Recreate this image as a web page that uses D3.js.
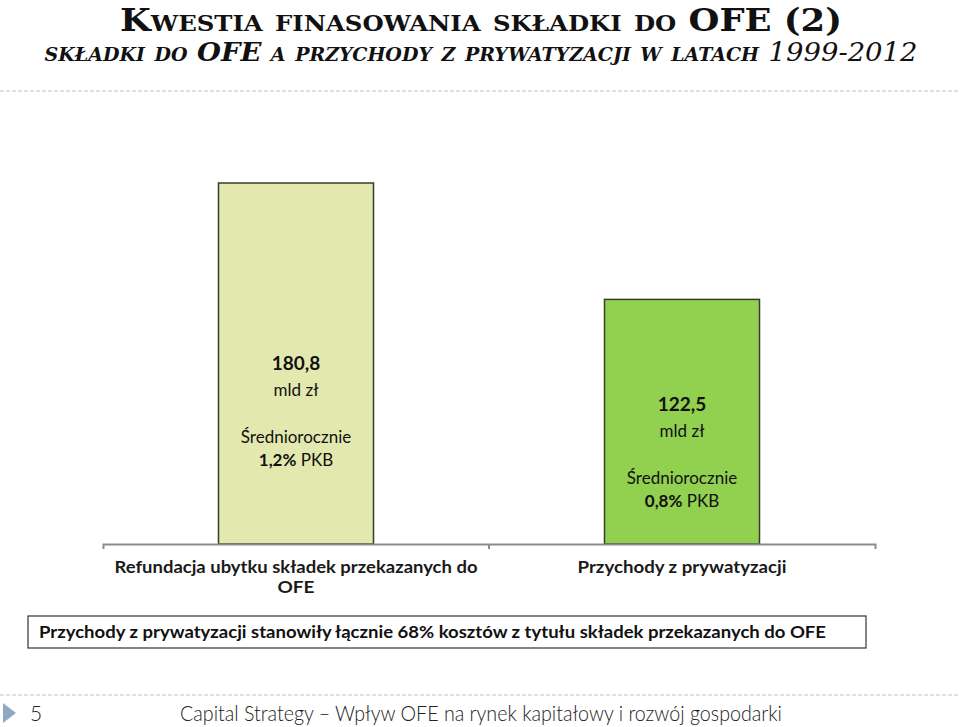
<!DOCTYPE html>
<html><head><meta charset="utf-8">
<script src="https://cdn.jsdelivr.net/npm/d3@7"></script>
<style>
body{margin:0;background:#fff;}
svg{display:block;}
</style></head>
<body>
<svg id="chart" width="960" height="727"></svg>
<script>
const categories = ["Refundacja ubytku składek przekazanych do OFE", "Przychody z prywatyzacji"];
const categoryLines = [["Refundacja ubytku składek przekazanych do", "OFE"], ["Przychody z prywatyzacji"]];
const categoryLineWidths = [[363, 37], [209]];
const values = [180.8, 122.5];
const valueLabels = ["180,8", "122,5"];
const pkbLabels = ["1,2%", "0,8%"];
const barColors = ["#E3E8AE", "#92D050"];

const svg = d3.select("#chart");
const W = 960, H = 727;

// header
const serif = "'DejaVu Serif Condensed','DejaVu Serif',serif";
svg.append("text").attr("x", 481).attr("y", 31).attr("text-anchor", "middle")
  .style("font-family", serif).style("font-weight", "bold").style("font-size", "32px")
  .style("font-variant", "small-caps").attr("textLength", 722).attr("lengthAdjust", "spacingAndGlyphs")
  .attr("fill", "#111")
  .text("Kwestia finasowania składki do OFE (2)");

const t2 = svg.append("text").attr("x", 481).attr("y", 61).attr("text-anchor", "middle")
  .style("font-family", serif).style("font-weight", "bold").style("font-style", "italic")
  .style("font-size", "26px").style("font-variant", "small-caps").attr("fill", "#111")
  .attr("textLength", 873).attr("lengthAdjust", "spacingAndGlyphs");
t2.append("tspan").text("składki do ");
t2.append("tspan").text("OFE");
t2.append("tspan").text(" a przychody z prywatyzacji w latach ");
t2.append("tspan").style("font-weight", "normal").text("1999-2012");

// dashed separators
[91, 695].forEach(y => svg.append("line").attr("x1", 0).attr("x2", W).attr("y1", y).attr("y2", y)
  .attr("stroke", "#B4C6D2").attr("stroke-width", 1.2).attr("stroke-dasharray", "4,2"));

// scales
const x = d3.scaleBand().domain(categories).range([103, 875]).paddingInner(0).paddingOuter(0);
const y = d3.scaleLinear().domain([0, 180.8]).range([544, 183]);
const bw = 155;

const sans = "Lato,'Open Sans',sans-serif";

svg.append("g").selectAll("rect.bar").data(values).join("rect").attr("class", "bar")
  .attr("x", (d, i) => x(categories[i]) + x.bandwidth() / 2 - bw / 2)
  .attr("width", bw)
  .attr("y", d => y(d))
  .attr("height", d => y(0) - y(d))
  .attr("fill", (d, i) => barColors[i])
  .attr("stroke", "#3b3b2b").attr("stroke-width", 1.5);

// axis
const axis = d3.axisBottom(x).tickSizeInner(0).tickSizeOuter(5).tickFormat("");
const ax = svg.append("g").attr("transform", `translate(0,${y(0)})`).call(axis);
ax.select(".domain").attr("stroke", "#8c8c8c").attr("stroke-width", 2);
ax.selectAll(".tick").remove();
ax.append("line").attr("x1", x(categories[1])).attr("x2", x(categories[1]))
  .attr("y1", 0).attr("y2", 5).attr("stroke", "#8c8c8c").attr("stroke-width", 2);

// category labels
categoryLines.forEach((lines, i) => {
  const cx = x(categories[i]) + x.bandwidth() / 2;
  lines.forEach((l, j) => {
    svg.append("text").attr("x", cx).attr("y", 573 + j * 20).attr("text-anchor", "middle")
      .style("font-family", sans).style("font-weight", "bold").style("font-size", "17px")
      .attr("textLength", categoryLineWidths[i][j]).attr("lengthAdjust", "spacingAndGlyphs")
      .attr("fill", "#1a1a1a").text(l);
  });
});

// in-bar labels
values.forEach((v, i) => {
  const cx = x(categories[i]) + x.bandwidth() / 2;
  const top = y(v);
  const base = i === 0 ? 187 : 112;
  svg.append("text").attr("x", cx).attr("y", top + base).attr("text-anchor", "middle")
    .style("font-family", sans).style("font-weight", "bold").style("font-size", "19px")
    .attr("fill", "#111").text(valueLabels[i]);
  svg.append("text").attr("x", cx).attr("y", top + base + 26).attr("text-anchor", "middle")
    .style("font-family", sans).style("font-size", "17px").attr("fill", "#111").text("mld zł");
  svg.append("text").attr("x", cx).attr("y", top + base + 73).attr("text-anchor", "middle")
    .style("font-family", sans).style("font-size", "17px").attr("fill", "#111").text("Średniorocznie");
  const tt = svg.append("text").attr("x", cx).attr("y", top + base + 96).attr("text-anchor", "middle")
    .style("font-family", sans).style("font-size", "17px").attr("fill", "#111");
  tt.append("tspan").style("font-weight", "bold").text(pkbLabels[i]);
  tt.append("tspan").text(" PKB");
});

// note box
svg.append("rect").attr("x", 28).attr("y", 616).attr("width", 838).attr("height", 32)
  .attr("fill", "#fff").attr("stroke", "#333").attr("stroke-width", 1.2);
svg.append("text").attr("x", 39).attr("y", 638)
  .style("font-family", sans).style("font-weight", "bold").style("font-size", "17px").attr("fill", "#111")
  .attr("textLength", 787).attr("lengthAdjust", "spacingAndGlyphs")
  .text("Przychody z prywatyzacji stanowiły łącznie 68% kosztów z tytułu składek przekazanych do OFE");

// footer
svg.append("path").attr("d", "M3,703 L16,713 L3,723 Z").attr("fill", "#8FA8C4");
svg.append("text").attr("x", 30).attr("y", 721).style("font-family", sans).style("font-size", "21px")
  .style("font-weight", 300).attr("fill", "#222").text("5");
svg.append("text").attr("x", 180).attr("y", 721).style("font-family", sans).style("font-size", "21px")
  .style("font-weight", 300).attr("fill", "#222")
  .attr("textLength", 602).attr("lengthAdjust", "spacingAndGlyphs")
  .text("Capital Strategy – Wpływ OFE na rynek kapitałowy i rozwój gospodarki");
</script>
</body></html>
